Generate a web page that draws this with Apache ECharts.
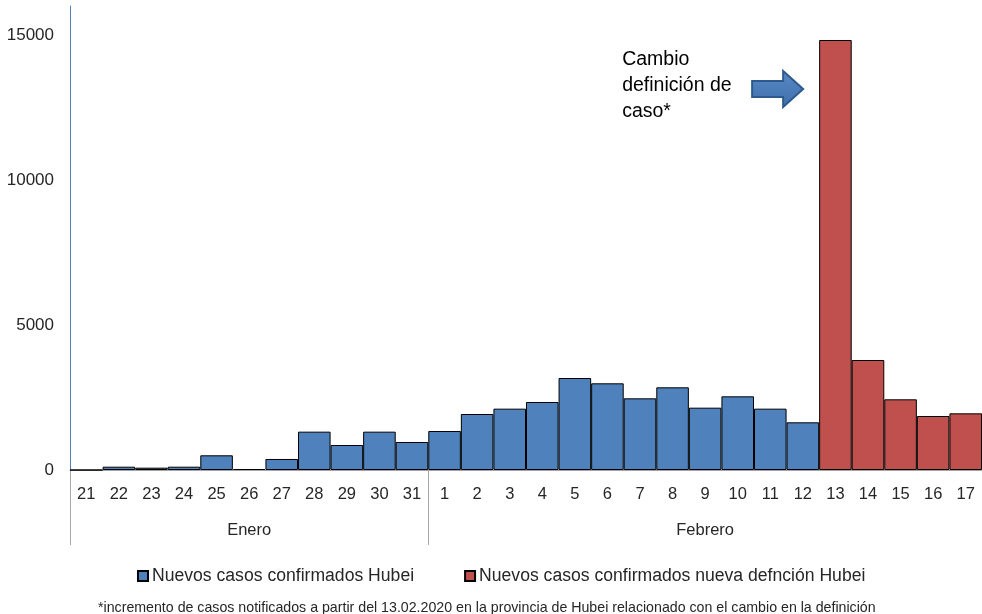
<!DOCTYPE html>
<html><head><meta charset="utf-8">
<script src="https://cdn.jsdelivr.net/npm/echarts@6/dist/echarts.min.js"></script>
<style>html,body{margin:0;padding:0;background:#fff}#c{width:982px;height:614px}</style>
</head><body><div id="c"></div>
<script>
var days = ['21','22','23','24','25','26','27','28','29','30','31','1','2','3','4','5','6','7','8','9','10','11','12','13','14','15','16','17'];
var months = ['Enero','Febrero'];
var monthCounts = [11, 17];
var hubeiOld = [0,114,80,114,507,35,380,1322,862,1322,966,1345,1931,2115,2345,3172,2989,2471,2851,2149,2540,2115,1644,'-','-','-','-','-'];
var hubeiNew = ['-','-','-','-','-','-','-','-','-','-','-','-','-','-','-','-','-','-','-','-','-','-','-',14828,3793,2437,1862,1954];
var seriesNames = ['Nuevos casos confirmados Hubei','Nuevos casos confirmados nueva defnción Hubei'];
var yTicks = [0, 5000, 10000, 15000];
var footnote = '*incremento de casos notificados a partir del 13.02.2020 en la provincia de Hubei relacionado con el cambio en la definición';
var annotation = 'Cambio\ndefinición de\ncaso*';

var FONT = '"Liberation Sans", Arial, sans-serif';
var TXT = '#262626';

var boundaries = [0];
var midIdx = {};
var acc = 0;
months.forEach(function(m, i){
  var start = acc;
  acc += monthCounts[i];
  boundaries.push(acc);
  midIdx[Math.floor((start + acc - 1) / 2)] = m;
});

var chart = echarts.init(document.getElementById('c'), null, {renderer:'canvas'});
chart.setOption({
  animation: false,
  backgroundColor: '#fff',
  textStyle: {fontFamily: FONT},
  grid: {left: 70, right: 0, top: 6, bottom: 144, containLabel: false},
  xAxis: [{
    type: 'category', data: days, position: 'bottom',
    axisLine: {lineStyle: {color: '#A6A6A6', width: 1}},
    axisTick: {show: true, length: 75, lineStyle: {color: '#A6A6A6'},
      interval: function(i){ return boundaries.indexOf(i) >= 0; }},
    axisLabel: {color: TXT, fontSize: 16.5, margin: 16, interval: 0, fontFamily: FONT}
  },{
    type: 'category', data: days, position: 'bottom', offset: 40,
    axisLine: {show: false}, axisTick: {show: false},
    axisLabel: {color: TXT, fontSize: 16.5, interval: 0, margin: 12, fontFamily: FONT,
      formatter: function(v, i){ return midIdx[i] || ''; }}
  }],
  yAxis: {
    type: 'value', min: 0, max: 16000, interval: 5000,
    splitLine: {show: false},
    axisLine: {show: true, lineStyle: {color: '#4F81BD', width: 1}},
    axisTick: {show: false},
    axisLabel: {color: TXT, fontSize: 17, margin: 16, showMaxLabel: false, fontFamily: FONT,
      formatter: function(v){ return yTicks.indexOf(v) >= 0 ? String(v) : ''; }}
  },
  legend: {
    left: 132, top: 562, itemWidth: 10, itemHeight: 10, itemGap: 50,
    icon: 'rect',
    textStyle: {color: TXT, fontSize: 17.6, fontFamily: FONT, padding: [0,0,0,-1]},
    data: seriesNames
  },
  title: {
    text: footnote, left: 93, top: 596,
    textStyle: {color: TXT, fontSize: 14.2, fontWeight: 'normal', fontFamily: FONT}
  },
  series: [{
    name: seriesNames[0], type: 'bar', stack: 'a', xAxisIndex: 0,
    barWidth: '100%', data: hubeiOld,
    itemStyle: {color: '#4F81BD', borderColor: '#000', borderWidth: 1}
  },{
    name: seriesNames[1], type: 'bar', stack: 'a', xAxisIndex: 0,
    barWidth: '100%', data: hubeiNew,
    itemStyle: {color: '#C0504D', borderColor: '#000', borderWidth: 1}
  }]
});

var tip = chart.convertToPixel({xAxisIndex:0, yAxisIndex:0}, ['13', 13140]);
var band = chart.convertToPixel({xAxisIndex:0}, '14') - chart.convertToPixel({xAxisIndex:0}, '13');
var tx = tip[0] - band/2 - 16, ty = tip[1];
chart.setOption({
  graphic: [{
    type: 'polygon', z: 100,
    shape: {points: [[tx-51, ty-8],[tx-20, ty-8],[tx-20, ty-18],[tx, ty],[tx-20, ty+18],[tx-20, ty+8],[tx-51, ty+8]]},
    style: {fill: {type:'linear', x:0,y:0,x2:0,y2:1, colorStops:[{offset:0,color:'#5A8AC6'},{offset:1,color:'#3F6FAA'}]},
      stroke: '#2C5A8E', lineWidth: 2}
  },{
    type: 'text', z: 100, left: tx - 181, top: ty - 42,
    style: {text: annotation, fill: '#000', font: '19.5px ' + FONT, lineHeight: 26}
  }]
});
</script></body></html>
